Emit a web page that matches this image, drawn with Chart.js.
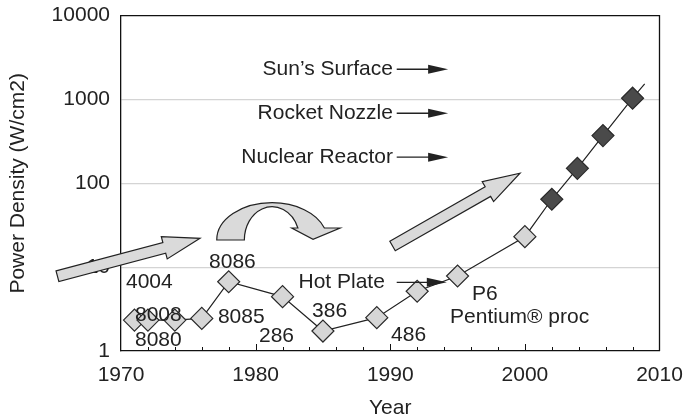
<!DOCTYPE html>
<html>
<head>
<meta charset="utf-8">
<script src="https://cdn.jsdelivr.net/npm/chart.js@4"></script>
<style>
  html, body { margin: 0; padding: 0; background: #fff; }
  #powerChart { display: block; }
</style>
</head>
<body>
<canvas id="powerChart" width="684" height="419"></canvas>
<script>
// Power density of processors over the years
const years = [1971, 1972, 1974, 1976, 1978, 1982, 1985, 1989, 1992, 1995, 2000, 2002, 2003.9, 2005.8, 2008, 2008.9];
const density = [2.34, 2.34, 2.34, 2.45, 6.7, 4.45, 1.73, 2.5, 5.16, 7.85, 23.1, 64.6, 151, 371, 1037, 1535];
// 'light' = shipped chips, 'dark' = later chips, '' = end of trend line, no marker
const pointKind = ['light', 'light', 'light', 'light', 'light', 'light', 'light', 'light', 'light', 'light', 'light',
                   'dark', 'dark', 'dark', 'dark', ''];

const xTicks = [1970, 1980, 1990, 2000, 2010];
const yTicks = [1, 10, 100, 1000, 10000];

// chip names written next to the markers (year, value of the text anchor)
const chipNames = ['4004', '8008', '8080', '8085', '8086', '286', '386', '486', 'P6', 'Pentium® proc'];
const chipLabelYear = [1970.37, 1971.04, 1971.04, 1977.2, 1976.54, 1980.25, 1984.19, 1990.06, 1996.08, 1994.44];
const chipLabelValue = [6.53, 2.69, 1.35, 2.55, 11.5, 1.52, 3.0, 1.55, 4.79, 2.55];

// heat sources for comparison, each with a small pointer arrow
const heatNames = ['Sun’s Surface', 'Rocket Nozzle', 'Nuclear Reactor', 'Hot Plate'];
const heatValue = [2297, 686, 205, 6.6];
const heatTextEnd = [1990.2, 1990.2, 1990.2, 1989.6];
const heatArrowStart = [1990.48, 1990.48, 1990.48, 1990.48];
const heatArrowEnd = [1994.3, 1994.3, 1994.3, 1994.2];

// big grey arrows: tail year, tail value, tip year, tip value
const blockArrows = [
  [1965.28, 7.8, 1975.87, 22.1],
  [1990.17, 17.9, 1999.64, 132]
];
// centre of the curved arrow
const curveYear = 1981.22;
const curveValue = 21.1;

const FONT = '"Liberation Sans", Arial, Helvetica, sans-serif';
const INK = '#222';
const font = { family: FONT, size: 21 };

function blockArrow(ctx, x0, y0, x1, y1) {
  const sw = 11, hw = 23, hl = 37;
  const len = Math.hypot(x1 - x0, y1 - y0);
  ctx.save();
  ctx.translate(x0, y0);
  ctx.rotate(Math.atan2(y1 - y0, x1 - x0));
  ctx.beginPath();
  ctx.moveTo(0, -sw / 2);
  ctx.lineTo(len - hl, -sw / 2);
  ctx.lineTo(len - hl, -hw / 2);
  ctx.lineTo(len, 0);
  ctx.lineTo(len - hl, hw / 2);
  ctx.lineTo(len - hl, sw / 2);
  ctx.lineTo(0, sw / 2);
  ctx.closePath();
  ctx.fill();
  ctx.stroke();
  ctx.restore();
}

function curvedArrow(ctx, cx, cy) {
  ctx.beginPath();
  ctx.ellipse(cx, cy, 55.3, 37.3, 0, Math.PI, 2 * Math.PI - Math.asin(12 / 37.3), false);
  ctx.lineTo(cx + 68, cy - 12);
  ctx.lineTo(cx + 41, cy - 0.7);
  ctx.lineTo(cx + 19.7, cy - 12);
  ctx.ellipse(cx, cy, 27.7, 33.3, 0, 2 * Math.PI - Math.asin(12 / 33.3), Math.PI, true);
  ctx.closePath();
  ctx.fill();
  ctx.stroke();
}

const decorations = {
  id: 'decorations',
  afterDraw(chart) {
    const { ctx, chartArea: a, scales: { x, y } } = chart;
    ctx.save();

    // frame on top and right
    ctx.strokeStyle = '#111';
    ctx.lineWidth = 1.3;
    ctx.beginPath();
    ctx.moveTo(a.left, a.top);
    ctx.lineTo(a.right, a.top);
    ctx.lineTo(a.right, a.bottom);
    ctx.stroke();

    // inward ticks every two years, longer each decade
    ctx.lineWidth = 1;
    for (let yr = 1972; yr < 2010; yr += 2) {
      const px = Math.round(x.getPixelForValue(yr)) + 0.5;
      const h = yr % 10 === 0 ? 7 : 4;
      ctx.beginPath();
      ctx.moveTo(px, a.bottom);
      ctx.lineTo(px, a.bottom - h);
      ctx.stroke();
    }

    ctx.fillStyle = INK;
    ctx.font = '21px ' + FONT;
    ctx.textBaseline = 'middle';

    // chip labels
    ctx.textAlign = 'left';
    chipNames.forEach((name, i) => {
      ctx.fillText(name, x.getPixelForValue(chipLabelYear[i]), y.getPixelForValue(chipLabelValue[i]));
    });

    // heat source labels with pointer arrows
    heatNames.forEach((name, i) => {
      const py = y.getPixelForValue(heatValue[i]);
      const xs = x.getPixelForValue(heatArrowStart[i]);
      const xe = x.getPixelForValue(heatArrowEnd[i]);
      ctx.textAlign = 'right';
      ctx.fillText(name, x.getPixelForValue(heatTextEnd[i]), py);
      ctx.strokeStyle = INK;
      ctx.lineWidth = 1.3;
      ctx.beginPath();
      ctx.moveTo(xs, py);
      ctx.lineTo(xe - 18, py);
      ctx.stroke();
      ctx.beginPath();
      ctx.moveTo(xe - 20, py - 4.5);
      ctx.lineTo(xe, py);
      ctx.lineTo(xe - 20, py + 4.5);
      ctx.closePath();
      ctx.fill();
    });

    // grey block arrows
    ctx.fillStyle = '#dadada';
    ctx.strokeStyle = '#222';
    ctx.lineWidth = 1.2;
    ctx.lineJoin = 'miter';
    blockArrows.forEach(([tx, tv, hx, hv]) => {
      blockArrow(ctx, x.getPixelForValue(tx), y.getPixelForValue(tv),
                 x.getPixelForValue(hx), y.getPixelForValue(hv));
    });
    curvedArrow(ctx, x.getPixelForValue(curveYear), y.getPixelForValue(curveValue));

    ctx.restore();
  }
};

new Chart(document.getElementById('powerChart').getContext('2d'), {
  type: 'scatter',
  data: {
    datasets: [{
      data: years.map((yr, i) => ({ x: yr, y: density[i] })),
      showLine: true,
      borderColor: '#222',
      borderWidth: 1.2,
      pointStyle: 'rectRot',
      pointRadius: pointKind.map(k => (k ? 11 : 0)),
      pointBackgroundColor: pointKind.map(k => (k === 'dark' ? '#4a4a4a' : '#d6d6d6')),
      pointBorderColor: '#2a2a2a',
      pointBorderWidth: 1.2,
    }],
  },
  options: {
    responsive: false,
    animation: false,
    layout: { padding: { top: 15.7, right: 24.5, left: 0, bottom: 0 } },
    plugins: { legend: { display: false }, tooltip: { enabled: false } },
    scales: {
      x: {
        type: 'linear',
        min: 1970,
        max: 2010,
        afterBuildTicks: s => { s.ticks = xTicks.map(v => ({ value: v })); },
        afterFit: s => { s.height = 68; s.paddingLeft = 0; s.paddingRight = 0; },
        ticks: { font, color: INK, padding: 12, maxRotation: 0, autoSkip: false, callback: v => String(v) },
        grid: { drawOnChartArea: false, drawTicks: false },
        border: { color: '#111', width: 1.3 },
        title: { display: true, text: 'Year', font: { family: FONT, size: 21, lineHeight: 1 }, color: INK, padding: 0 },
      },
      y: {
        type: 'logarithmic',
        min: 1,
        max: 10000,
        afterBuildTicks: s => { s.ticks = yTicks.map(v => ({ value: v })); },
        afterFit: s => { s.width = 121; s.paddingTop = 0; s.paddingBottom = 0; },
        ticks: { font, color: INK, padding: 11, callback: v => String(v) },
        grid: {
          drawTicks: false,
          lineWidth: 1.3,
          color: c => (c.tick && (c.tick.value === 1 || c.tick.value === 10000) ? 'rgba(0,0,0,0)' : '#d4d4d4'),
        },
        border: { color: '#111', width: 1.3 },
        title: { display: true, text: 'Power Density (W/cm2)', font, color: INK, padding: { top: 6, bottom: 0 } },
      },
    },
  },
  plugins: [decorations],
});
</script>
</body>
</html>
